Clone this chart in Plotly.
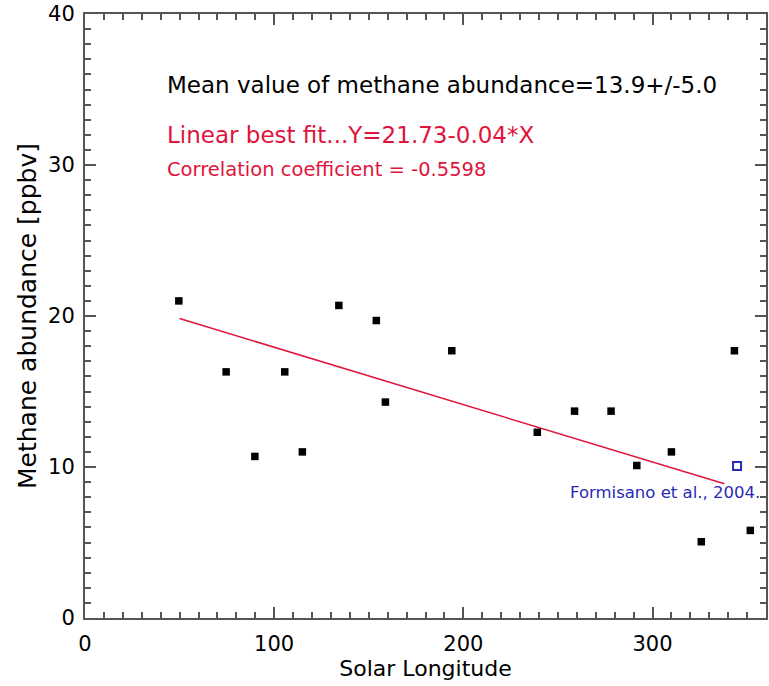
import plotly.graph_objects as go

# Methane abundance vs. solar longitude
solar_longitude = [49.6, 74.6, 89.8, 105.6, 114.9, 134.2, 154.0, 158.8, 193.9,
                   239.1, 258.8, 278.1, 291.7, 310.0, 325.8, 343.3, 351.7]
methane_ppbv = [21.0, 16.3, 10.7, 16.3, 11.0, 20.7, 19.7, 14.3, 17.7,
                12.3, 13.7, 13.7, 10.1, 11.0, 5.05, 17.7, 5.8]

# Linear best fit (Y = a + b*X) and its plotted extent
fit_intercept = 21.73
fit_slope = -0.038
fit_x = [50.0, 338.0]
correlation = -0.5598
mean_value = 13.9
std_value = 5.0

# Formisano et al. (2004) reference value
ref_longitude = [344.7]
ref_ppbv = [10.07]

FONT = "DejaVu Sans"
RED = "#e0143c"
BLUE = "#2a2ab4"
AXIS = "#555555"

fig = go.Figure()

fig.add_trace(go.Scatter(
    x=fit_x,
    y=[fit_intercept + fit_slope * x for x in fit_x],
    mode="lines",
    line=dict(color=RED, width=1.5),
    showlegend=False,
))

fig.add_trace(go.Scatter(
    x=solar_longitude, y=methane_ppbv,
    mode="markers",
    marker=dict(symbol="square", size=7.5, color="black",
                line=dict(color="black", width=0)),
    showlegend=False,
))

fig.add_trace(go.Scatter(
    x=ref_longitude, y=ref_ppbv,
    mode="markers",
    marker=dict(symbol="square-open", size=8, color=BLUE,
                line=dict(color=BLUE, width=2)),
    showlegend=False,
))

axis_common = dict(
    showgrid=False, zeroline=False,
    showline=True, linecolor=AXIS, linewidth=2,
    mirror="allticks", ticks="inside", tickcolor=AXIS, tickwidth=1.5,
    tickfont=dict(family=FONT, size=21, color="black"),
)

fig.update_xaxes(
    range=[0, 360], tickvals=[0, 100, 200, 300], ticklen=11,
    minor=dict(dtick=10, ticks="inside", ticklen=6, tickcolor=AXIS, tickwidth=1.5),
    ticklabelstandoff=6,
    title=dict(text="Solar Longitude", font=dict(family=FONT, size=22, color="black"),
               standoff=2),
    **axis_common,
)
fig.update_yaxes(
    range=[0, 40], tickvals=[0, 10, 20, 30, 40], ticklen=11,
    minor=dict(dtick=1, ticks="inside", ticklen=6, tickcolor=AXIS, tickwidth=1.5),
    ticklabelstandoff=4,
    title=dict(text="Methane abundance [ppbv]", font=dict(family=FONT, size=25, color="black"),
               standoff=4),
    **axis_common,
)

fig.add_annotation(
    x=42.1, y=35.3, xref="x", yref="y", xanchor="left", yanchor="middle",
    text=f"Mean value of methane abundance={mean_value:.1f}+/-{std_value:.1f}",
    showarrow=False, font=dict(family=FONT, size=23, color="black"),
)
fig.add_annotation(
    x=42.1, y=32.0, xref="x", yref="y", xanchor="left", yanchor="middle",
    text=f"Linear best fit...Y={fit_intercept:.2f}{fit_slope:.2f}*X",
    showarrow=False, font=dict(family=FONT, size=23, color=RED),
)
fig.add_annotation(
    x=42.1, y=29.7, xref="x", yref="y", xanchor="left", yanchor="middle",
    text=f"Correlation coefficient = {correlation:.4f}",
    showarrow=False, font=dict(family=FONT, size=19.5, color=RED),
)
fig.add_annotation(
    x=358, y=8.34, xref="x", yref="y", xanchor="right", yanchor="middle",
    text="Formisano et al., 2004.",
    showarrow=False, font=dict(family=FONT, size=16.5, color=BLUE),
)

fig.update_layout(
    width=769, height=686,
    margin=dict(l=85, r=1, t=14, b=68),
    paper_bgcolor="white", plot_bgcolor="white",
)

fig.write_html("out.html")
